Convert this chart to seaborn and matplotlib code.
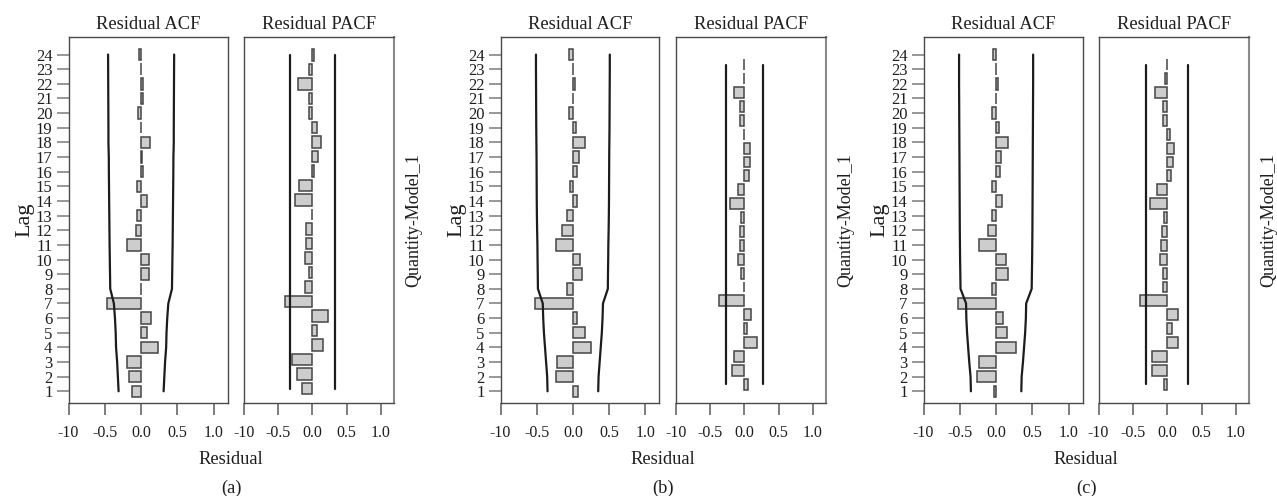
import numpy as np
import pandas as pd
import matplotlib
matplotlib.use("Agg")
import matplotlib.pyplot as plt
import matplotlib.transforms as mtrans
import seaborn as sns

# ---------------- data ----------------
LAGS = list(range(1, 25))
LAG_TICK_LABELS = [str(v) for v in LAGS]
X_TICKS = [-1.0, -0.5, 0.0, 0.5, 1.0]
X_TICK_LABELS = ["-10", "-0.5", "0.0", "0.5", "1.0"]
PANEL_TAGS = ["(a)", "(b)", "(c)"]
TITLE_ACF = "Residual ACF"
TITLE_PACF = "Residual PACF"
X_LABEL = "Residual"
Y_LABEL = "Lag"
RIGHT_LABEL = "Quantity-Model_1"

# panel (a)
ACF_A = [-0.13, -0.17, -0.20, 0.23, 0.08, 0.14, -0.47, 0.0, 0.11, 0.11, -0.20, -0.075,
         -0.055, 0.08, -0.055, 0.03, 0.01, 0.12, 0.005, -0.04, 0.02, 0.025, 0.005, -0.025]
ACF_A_LIMIT = [0.31, 0.32, 0.33, 0.345, 0.35, 0.36, 0.375, 0.425, 0.428, 0.431, 0.434, 0.436,
               0.438, 0.44, 0.442, 0.444, 0.445, 0.45, 0.45, 0.451, 0.452, 0.453, 0.454, 0.455]
PACF_A = [-0.16, -0.23, -0.30, 0.15, 0.07, 0.23, -0.40, -0.11, -0.055, -0.11, -0.10, -0.095,
          -0.005, -0.25, -0.20, 0.02, 0.08, 0.12, 0.065, -0.045, -0.055, -0.21, -0.055, 0.02]
PACF_A_LIMIT = 0.335

# panel (b)
ACF_B = [0.065, -0.235, -0.22, 0.25, 0.165, 0.06, -0.525, -0.085, 0.12, 0.105, -0.235, -0.145,
         -0.08, 0.055, -0.035, 0.055, 0.085, 0.17, 0.04, -0.05, 0.005, 0.03, 0.0, -0.055]
ACF_B_LIMIT = [0.35, 0.355, 0.37, 0.385, 0.40, 0.41, 0.416, 0.483, 0.485, 0.488, 0.49, 0.494,
               0.497, 0.499, 0.5, 0.501, 0.502, 0.504, 0.506, 0.507, 0.508, 0.509, 0.51, 0.51]
PACF_B = [0.045, -0.185, -0.155, 0.18, 0.04, 0.09, -0.365, -0.005, -0.045, -0.095, -0.065, -0.06,
          -0.05, -0.21, -0.09, 0.065, 0.085, 0.08, 0.0, -0.07, -0.07, -0.155, 0.0, 0.0]
PACF_B_LIMIT = 0.275

# panel (c)
ACF_C = [-0.035, -0.265, -0.235, 0.27, 0.155, 0.10, -0.53, -0.05, 0.165, 0.13, -0.235, -0.11,
         -0.055, 0.08, -0.055, 0.05, 0.065, 0.165, 0.035, -0.06, 0.0, 0.03, 0.0, -0.04]
ACF_C_LIMIT = [0.347, 0.352, 0.37, 0.385, 0.40, 0.41, 0.414, 0.49, 0.493, 0.496, 0.498, 0.5,
               0.501, 0.502, 0.503, 0.504, 0.505, 0.506, 0.507, 0.508, 0.509, 0.51, 0.51, 0.51]
PACF_C = [-0.04, -0.225, -0.225, 0.16, 0.07, 0.16, -0.39, -0.055, -0.06, -0.105, -0.095, -0.08,
          -0.045, -0.245, -0.15, 0.05, 0.08, 0.10, 0.045, -0.055, -0.06, -0.185, -0.03, 0.0]
PACF_C_LIMIT = 0.305

# ---------------- style ----------------
sns.set_style("white")
plt.rcParams["font.family"] = ["Liberation Serif", "DejaVu Serif"]
TEXT = "#1e1e1e"
BAR_FILL = "#cdcdcd"
BAR_EDGE = "#454545"
LINE = "#1c1c1c"
SPINE = "#4a4a4a"

W, H = 1277, 496
fig = plt.figure(figsize=(W / 100, H / 100), dpi=100)

AX_TOP, AX_BOTTOM = 37, 403
XLIM = (-1.0, 1.19)


def rect(l, r):
    return [l / W, 1 - AX_BOTTOM / H, (r - l) / W, (AX_BOTTOM - AX_TOP) / H]


label_shift = mtrans.ScaledTranslation(5 / 100, 0, fig.dpi_scale_trans)


def draw(ax, values, limit, ylim, title, is_acf):
    df = pd.DataFrame({"lag": LAGS, "value": values})
    sns.barplot(data=df, x="value", y="lag", orient="h", native_scale=True,
                width=0.78, color=BAR_FILL, saturation=1, edgecolor=BAR_EDGE,
                linewidth=1.1, errorbar=None, ax=ax, zorder=3)
    lim = np.broadcast_to(np.asarray(limit, dtype=float), (len(LAGS),))
    for sign in (1, -1):
        sns.lineplot(x=sign * lim, y=LAGS, orient="y", sort=False, estimator=None,
                     color=LINE, lw=1.6, ax=ax, zorder=4)
    ax.set_xlim(*XLIM)
    ax.set_ylim(*ylim)
    ax.set_xticks(X_TICKS)
    ax.set_xticklabels(X_TICK_LABELS, fontsize=11.5, color=TEXT)
    for lab in ax.get_xticklabels():
        lab.set_transform(lab.get_transform() + label_shift)
    ax.tick_params(axis="x", bottom=True, direction="out", length=8.6, width=1.1,
                   color="#5a5a5a", pad=7.5)
    ax.set_xlabel("")
    if is_acf:
        ax.set_yticks(LAGS)
        ax.set_yticklabels(LAG_TICK_LABELS, fontsize=12, color=TEXT)
        ax.tick_params(axis="y", left=True, direction="out", length=8.6, width=1.1,
                       color="#7a7a7a", pad=3)
        ax.set_ylabel(Y_LABEL, fontsize=16, color=TEXT, labelpad=1)
    else:
        ax.set_yticks([])
        ax.yaxis.set_label_position("right")
        ax.set_ylabel(RIGHT_LABEL, fontsize=13, color=TEXT, labelpad=8, rotation=90)
    ax.set_title(title, fontsize=13.3, color=TEXT, pad=6)
    for name, sp in ax.spines.items():
        sp.set_visible(True)
        sp.set_color(SPINE)
        sp.set_linewidth(1.0)
    if not is_acf:
        ax.spines["right"].set_color("#8a8a8a")
        ax.spines["right"].set_linewidth(1.5)


panels = [
    dict(acf=ACF_A, acf_lim=ACF_A_LIMIT, pacf=PACF_A, pacf_lim=PACF_A_LIMIT,
         acf_px=(68.5, 227.5), pacf_px=(244, 394), pacf_ylim=(0.0, 25.25)),
    dict(acf=ACF_B, acf_lim=ACF_B_LIMIT, pacf=PACF_B, pacf_lim=PACF_B_LIMIT,
         acf_px=(500.5, 659), pacf_px=(676, 826), pacf_ylim=(-0.35, 26.0)),
    dict(acf=ACF_C, acf_lim=ACF_C_LIMIT, pacf=PACF_C, pacf_lim=PACF_C_LIMIT,
         acf_px=(923.5, 1082.5), pacf_px=(1098.5, 1249), pacf_ylim=(-0.35, 26.0)),
]

for tag, p in zip(PANEL_TAGS, panels):
    ax1 = fig.add_axes(rect(*p["acf_px"]))
    draw(ax1, p["acf"], p["acf_lim"], (0.2, 25.2), TITLE_ACF, True)
    ax2 = fig.add_axes(rect(*p["pacf_px"]))
    draw(ax2, p["pacf"], p["pacf_lim"], p["pacf_ylim"], TITLE_PACF, False)
    cx = (p["acf_px"][0] + p["pacf_px"][1]) / 2 / W
    fig.text(cx, 1 - 459 / H, X_LABEL, ha="center", va="center", fontsize=13.3, color=TEXT)
    fig.text(cx, 1 - 488 / H, tag, ha="center", va="center", fontsize=13.3, color=TEXT)

fig.savefig("out.png", dpi=100)
